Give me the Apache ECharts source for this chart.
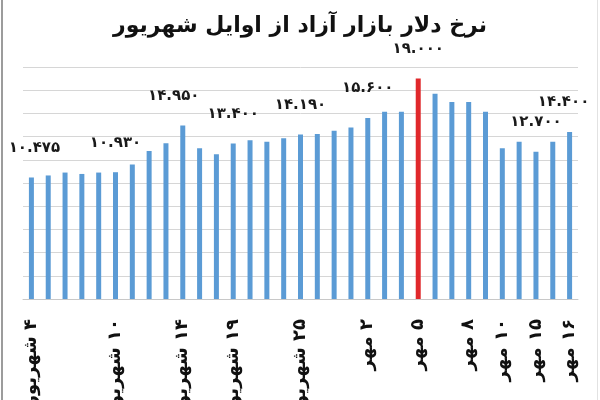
<!DOCTYPE html>
<html>
<head>
<meta charset="utf-8">
<script src="https://cdn.jsdelivr.net/npm/echarts@6/dist/echarts.min.js"></script>
<style>
  html, body { margin: 0; padding: 0; background: #fff; }
  #wrap { position: relative; width: 600px; height: 400px; }
  #chart { width: 600px; height: 400px; }
  .edge { position: absolute; top: 0; height: 400px; }
  .edge.left { left: 1px; width: 2px; background: #9c9c9c; }
  .edge.right { left: 597px; width: 1px; background: #e2e2e2; }
</style>
</head>
<body>
<div id="wrap">
  <div id="chart"></div>
  <div class="edge left"></div>
  <div class="edge right"></div>
</div>
<script>
(function () {
  // تاریخ‌ها (فقط برخی برچسب دارند)
  const dates = [
    '۴ شهریور', '', '', '', '', '۱۰ شهریور', '', '', '', '۱۴ شهریور',
    '', '', '۱۹ شهریور', '', '', '', '۲۵ شهریور', '', '', '',
    '۲ مهر', '', '', '۵ مهر', '', '', '۸ مهر', '', '۱۰ مهر', '',
    '۱۵ مهر', '', '۱۶ مهر',
  ];
  // نرخ دلار (تومان)
  const rates = [
    10475, 10650, 10900, 10780, 10900, 10930, 11600, 12750, 13420, 14950,
    13000, 12480, 13400, 13680, 13560, 13850, 14190, 14220, 14500, 14780,
    15600, 16150, 16150, 19000, 17700, 16980, 16980, 16150, 12990, 13560,
    12700, 13560, 14400,
  ];
  // میله‌هایی که مقدارشان نوشته شده
  const labelled = [0, 5, 9, 12, 16, 20, 23, 30, 32];
  const peakIndex = 23;

  const faDigits = '۰۱۲۳۴۵۶۷۸۹';
  function toFa(n) {
    const s = String(n).replace(/\B(?=(\d{3})+(?!\d))/g, '.');
    return s.replace(/\d/g, (d) => faDigits[+d]);
  }

  const labelOffset = { 0: [3, 0], 9: [-9, 0], 32: [-6, 0] };

  const myChart = echarts.init(document.getElementById('chart'));

  const option = {
    backgroundColor: '#fff',
    animation: false,
    title: {
      text: 'نرخ دلار بازار آزاد از اوایل شهریور',
      left: 'center',
      top: 10,
      textStyle: {
        fontFamily: 'DejaVu Sans',
        fontSize: 22,
        fontWeight: 'bold',
        color: '#111',
      },
    },
    grid: {
      left: 23,
      right: 22,
      top: 67,
      bottom: 101,
      // برچسب‌های پایین از کادر بیرون می‌زنند، نمودار کوچک نشود
      outerBoundsMode: 'none',
    },
    xAxis: {
      type: 'category',
      data: dates.map((d) => (d ? '\u200F' + d : '')),
      axisTick: { show: false },
      axisLine: {
        lineStyle: { color: '#c8c8c8' },
      },
      axisLabel: {
        interval: 0,
        rotate: 90,
        margin: 20,
        fontFamily: 'DejaVu Sans',
        fontSize: 18,
        fontWeight: 'bold',
        color: '#111',
      },
    },
    yAxis: {
      type: 'value',
      min: 0,
      max: 20000,
      interval: 2000,
      axisLabel: { show: false },
      axisLine: { show: false },
      axisTick: { show: false },
      splitLine: {
        lineStyle: { color: '#d6d6d6' },
      },
    },
    series: [
      {
        type: 'bar',
        barWidth: 5,
        itemStyle: { color: '#5b9bd5' },
        label: {
          position: 'top',
          distance: 22,
          fontFamily: 'DejaVu Sans',
          fontSize: 15,
          fontWeight: 'bold',
          color: '#1a1a1a',
          formatter: (p) => toFa(p.value),
        },
        data: rates.map((v, i) => ({
          value: v,
          itemStyle: i === peakIndex ? { color: '#e0282b' } : undefined,
          label: {
            show: labelled.includes(i),
            offset: labelOffset[i] || [0, 0],
          },
        })),
      },
    ],
  };

  myChart.setOption(option);

  window.addEventListener('resize', () => {
    myChart.resize();
  });
})();
</script>
</body>
</html>
